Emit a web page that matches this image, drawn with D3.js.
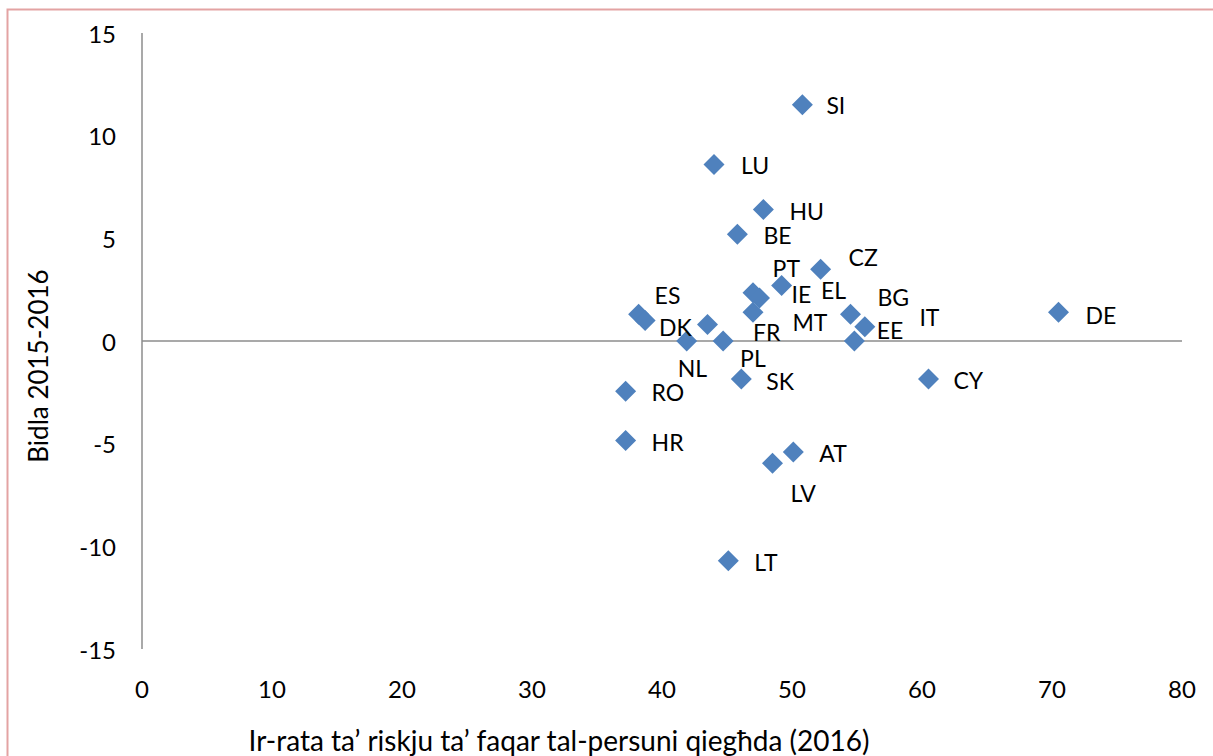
<!DOCTYPE html>
<html>
<head>
<meta charset="utf-8">
<script src="https://cdn.jsdelivr.net/npm/d3@7"></script>
<style>
  body { margin: 0; background: #fff; }
  svg text { font-family: Lato, "Open Sans", sans-serif; fill: #000; }
</style>
</head>
<body>
<div id="chart"></div>
<script>
// country codes and values
var countries = ["SI", "LU", "HU", "BE", "CZ", "PT", "EL", "IE", "FR", "ES", "DK", "MT", "NL",
                 "PL", "BG", "EE", "IT", "DE", "CY", "SK", "RO", "HR", "AT", "LV", "LT"];
var povertyRate = [50.8, 44.0, 47.8, 45.8, 52.2, 49.2, 47.0, 47.5, 47.0, 38.2, 38.7, 43.5, 41.9,
                   44.7, 54.5, 55.6, 54.8, 70.5, 60.5, 46.1, 37.2, 37.2, 50.1, 48.5, 45.1];
var change = [11.5, 8.6, 6.4, 5.2, 3.5, 2.7, 2.35, 2.1, 1.4, 1.3, 1.0, 0.8, 0.0,
              0.0, 1.3, 0.7, 0.0, 1.4, -1.85, -1.85, -2.45, -4.85, -5.4, -5.95, -10.7];
var xTicks = [0, 10, 20, 30, 40, 50, 60, 70, 80];
var yTicks = [-15, -10, -5, 0, 5, 10, 15];
var xTitle = "Ir-rata ta’ riskju ta’ faqar tal-persuni qiegħda (2016)";
var yTitle = "Bidla 2015-2016";

// where each label was dragged to, relative to its marker (px)
var labelShift = {
    SI: [24, 0], LU: [27, 1], HU: [26, 1], BE: [26, 1], CZ: [28, -12], PT: [-9, -18],
    EL: [68, -3], IE: [32, -4], FR: [0, 20], ES: [16, -19], DK: [14, 7], MT: [85, -3],
    NL: [-9, 27], PL: [17, 17], BG: [27, -17], EE: [12, 3], IT: [65, -24], DE: [27, 3],
    CY: [25, 1], SK: [25, 2], RO: [26, 1], HR: [26, 1], AT: [26, 1], LV: [18, 30], LT: [26, 1]
};

var WIDTH = 1213, HEIGHT = 756;

var svg = d3.select("#chart").append("svg")
    .attr("width", WIDTH)
    .attr("height", HEIGHT);

// chart area frame (pink edge, cut by the window)
svg.append("rect")
    .attr("x", 7.5).attr("y", 9.5)
    .attr("width", WIDTH + 20).attr("height", HEIGHT + 20)
    .attr("fill", "none")
    .attr("stroke", "#e3a3a3")
    .attr("stroke-width", 2);

var x = d3.scaleLinear().domain([0, 80]).range([142, 1182]);
var y = d3.scaleLinear().domain([-15, 15]).range([649, 33]);

// axis lines
svg.append("line")
    .attr("x1", x(0)).attr("x2", x(0))
    .attr("y1", y(15)).attr("y2", y(-15))
    .attr("stroke", "#8c8c8c").attr("stroke-width", 1.5);
svg.append("line")
    .attr("x1", x(0)).attr("x2", x(80))
    .attr("y1", y(0)).attr("y2", y(0))
    .attr("stroke", "#8c8c8c").attr("stroke-width", 1.5);

// tick labels
svg.selectAll("text.ytick")
    .data(yTicks).enter()
    .append("text")
    .attr("class", "ytick")
    .attr("x", 116)
    .attr("y", function (d) { return y(d); })
    .attr("text-anchor", "end")
    .attr("dominant-baseline", "central")
    .style("font-size", "24px")
    .text(function (d) { return d; });

svg.selectAll("text.xtick")
    .data(xTicks).enter()
    .append("text")
    .attr("class", "xtick")
    .attr("x", function (d) { return x(d); })
    .attr("y", 688)
    .attr("text-anchor", "middle")
    .attr("dominant-baseline", "central")
    .style("font-size", "24px")
    .text(function (d) { return d; });

// axis titles
svg.append("text")
    .attr("x", 559)
    .attr("y", 740)
    .attr("text-anchor", "middle")
    .attr("dominant-baseline", "central")
    .style("font-size", "28px")
    .text(xTitle);

svg.append("text")
    .attr("transform", "translate(38,366)rotate(-90)")
    .attr("text-anchor", "middle")
    .attr("dominant-baseline", "central")
    .style("font-size", "26px")
    .text(yTitle);

// markers
var diamond = "M0,-10.5L10.5,0L0,10.5L-10.5,0Z";
var points = svg.append("g").attr("class", "points");

points.selectAll("path")
    .data(countries).enter()
    .append("path")
    .attr("d", diamond)
    .attr("transform", function (d, i) {
        return "translate(" + x(povertyRate[i]) + "," + y(change[i]) + ")";
    })
    .attr("fill", "#4f81bd");

// data labels
points.selectAll("text")
    .data(countries).enter()
    .append("text")
    .attr("x", function (d, i) { return x(povertyRate[i]) + labelShift[d][0]; })
    .attr("y", function (d, i) { return y(change[i]) + labelShift[d][1]; })
    .attr("dominant-baseline", "central")
    .style("font-size", "23px")
    .text(function (d) { return d; });
</script>
</body>
</html>
